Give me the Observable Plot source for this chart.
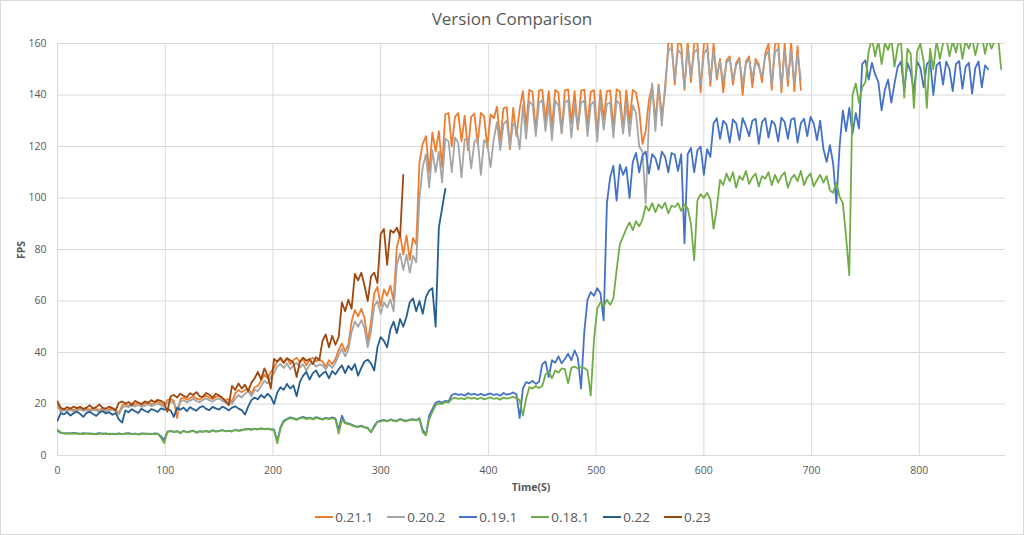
<!DOCTYPE html>
<html><head><meta charset="utf-8">
<script src="https://cdn.jsdelivr.net/npm/d3@7"></script>
<script src="https://cdn.jsdelivr.net/npm/@observablehq/plot@0.6"></script>
<style>
html,body{margin:0;padding:0;background:#fff;}
#wrap{position:relative;width:1024px;height:535px;font-family:"Open Sans",sans-serif;color:#595959;overflow:hidden;background:#fff;}
#frame{position:absolute;left:0;top:0;width:1024px;height:535px;box-sizing:border-box;border:1px solid #d9d9d9;pointer-events:none;}
#title{position:absolute;left:0;width:1024px;top:8px;line-height:22px;text-align:center;font-size:17px;}
#chart{position:absolute;left:0;top:0;}
#xlabel{position:absolute;left:481px;width:100px;top:479px;line-height:16px;text-align:center;font-size:10.5px;font-weight:bold;}
#ylabel{position:absolute;left:-29px;width:100px;top:242px;line-height:16px;text-align:center;font-size:10.5px;font-weight:bold;transform:rotate(-90deg);}
#legend{position:absolute;left:0;width:1026px;top:507px;height:20px;display:flex;justify-content:center;align-items:center;gap:14px;font-size:13.5px;}
.item{display:flex;align-items:center;}
.sw{width:18px;height:2px;margin-right:2px;}
</style>
</head><body>
<div id="wrap">
  <div id="chart"></div>
  <div id="title">Version Comparison</div>
  <div id="xlabel">Time(S)</div>
  <div id="ylabel">FPS</div>
  <div id="legend"></div>
  <div id="frame"></div>
</div>
<script>
// Sampling interval of every series (seconds between consecutive values)
const STEP = 3;
const seriesNames = ["0.21.1", "0.20.2", "0.19.1", "0.18.1", "0.22", "0.23"];
const seriesColors = ["#ED7D31", "#A5A5A5", "#4472C4", "#70AD47", "#255E91", "#9E480E"];
const xTicks = [0, 100, 200, 300, 400, 500, 600, 700, 800];
const yTicks = [0, 20, 40, 60, 80, 100, 120, 140, 160];

const v0211 = [
20, 17.5, 18, 17.8, 18.2, 17.6, 18, 18.4, 17.9, 18.1, 17.7, 18.3, 18, 17.6, 18.5, 17.2, 18, 18.4, 17.8, 16.5,
19.5, 20, 19.2, 20.3, 19.8, 20.5, 19.6, 20.1, 20.6, 19.9, 20.4, 21, 20.2, 19.5,
21.5, 22, 21.2, 14.5, 21.8, 22.5, 21.6, 22.3, 23, 22.1, 21.7, 22.6, 23.2, 22.4, 21.9, 22.8, 23.1, 22.2, 21.5, 22,
21, 24, 25.5, 24.5, 25.5, 26, 24, 26.5, 27, 29, 31.5, 30, 32.5,
34, 36.5, 37.5, 36, 37.8, 35.5, 37, 38, 36.2, 37.5, 35, 37.2, 38, 36.5, 37.3,
36.5, 34.5, 37, 35.5, 37.5, 41, 43.5, 40.5, 43,
52, 56.5, 54, 57, 53.5, 44, 52,
63, 65.5, 58, 64.5, 62, 66, 60,
81, 86, 78, 85.5, 76, 84.5, 82,
114, 121, 124, 110, 125.5, 118, 126, 112,
132.5, 133, 120, 131.5, 133, 122, 132, 118.5, 131.5, 132.8, 121, 133, 131.8, 119.5, 132.5, 131,
135.5, 122, 134.8, 135.3, 119, 135, 124, 134.5,
141.5, 128, 142, 141.2, 126, 141.8, 142, 130, 141.5, 127.5,
142, 141, 125.5, 141.8, 142.2, 129, 141.5, 126.5, 141.8, 142,
128, 141.2, 141.9, 125, 142, 130.5, 141.5, 141.8, 127, 142.2,
141.4, 126.5, 141.8, 129, 142, 141, 134,
121, 126, 138, 143.5, 130, 144, 132, 141,
160, 161, 144, 160.5, 159.5, 142, 161, 145, 160, 160.5, 141, 159.8, 161, 143.5, 160, 146,
154, 141, 153.5, 155, 144, 152.5, 154.5, 140, 153, 155, 143, 154, 152, 145, 156,
160, 142, 159.5, 161, 141, 160, 143.5, 160.5, 141.5, 159, 142
];

const v0202 = [
19, 17, 17.5, 17.2, 17.8, 17, 17.5, 17.9, 17.3, 17.6, 17.1, 17.7, 17.4, 17, 17.9, 16.8, 17.5, 17.8, 17.2, 16,
18.5, 19.2, 18.8, 19.5, 19, 19.7, 18.9, 19.4, 19.9, 19.2, 19.6, 20.2, 19.5, 18.8,
20.5, 21, 20.2, 18, 20.8, 21.5, 20.6, 21.3, 22, 21.1, 20.7, 21.6, 22.2, 21.4, 20.9, 21.8, 22.1, 21.2, 20.5, 21,
20, 22, 23.5, 22.5, 24, 25, 23, 25.5, 25, 27, 29, 28, 30.5,
32, 34.5, 35.5, 34, 35.8, 33.5, 35, 36, 34.2, 35.5, 33, 35.2, 36, 34.5, 35.3,
35, 33.5, 35.5, 34, 36, 39, 41.5, 38.5, 41,
48, 52, 50, 52.5, 49.5, 42, 48,
58, 60, 55, 59.5, 57.5, 60.5, 56,
74, 78.5, 72, 78, 71, 77.5, 75,
100, 112, 117, 104, 118.5, 110, 118, 106,
123, 122, 110, 123.5, 121.5, 108, 122.8, 123, 111.5, 121.8, 123.2, 109, 122.5, 121, 112, 123,
129.5, 118.5, 128.8, 130, 120, 129, 127.5, 119,
136, 123, 137.5, 136.2, 124, 137, 138, 126, 136.5, 122.5,
137.8, 136, 125, 137.2, 138, 123.5, 136.5, 127, 137, 137.8,
124, 136.2, 137.5, 122, 138, 126.5, 136.5, 137, 123.5, 137.8,
136.4, 125, 137, 124, 136, 133, 120,
118, 98, 130, 144.5, 126, 143, 128, 144,
157, 158.5, 146, 157.5, 156, 143, 158, 147, 156.5, 157.8, 144, 156, 158, 145.5, 157, 147.5,
153, 145, 152.5, 154, 146, 151.5, 153.5, 144, 152, 154, 146.5, 153, 151, 147, 155,
157, 144, 156.5, 158, 143, 157, 146, 157.5, 144.5, 156, 146
];

const v0191 = [
9.5, 8.8, 8.6, 8.7, 8.5, 8.8, 8.6, 8.4, 8.7, 8.5, 8.6, 8.3, 8.5, 8.7, 8.4, 8.6, 8.2, 8.5, 8.4, 8.6, 8.3, 8.5, 8.7, 8.4, 8.5, 8.2, 8.6, 8.4, 8.5, 8.3, 8.6, 8.5, 7.5,
6, 9.3, 9.6, 9.2, 9.5, 8.8, 9.6, 9.1, 9.4, 9.7, 8.9, 9.5, 9.3, 9.6, 9.2, 9.8, 9.4, 9.6, 9.9, 9.5, 9.7, 9.4, 10, 9.7, 9.9, 10.2,
10.3, 10.1, 10.4, 10.2, 10.5, 10.3, 10.4, 10.2, 10.1,
5.5, 11, 13.5, 14.2, 14.8, 14.5, 14, 14.6, 15, 14.4, 14.7, 14.2, 14.9, 14.5, 14.1, 14.6, 14.3, 14.8, 14.4,
10, 15.5, 12.8, 12.5, 12, 11.4, 11.2, 11.6, 11, 10.8, 9, 11.5, 13.2,
13.5, 13.8, 13.4, 14, 13.6, 13.5, 14.2, 13.7, 13.5, 13.9, 14.1, 13.8, 14.5,
10, 8, 15.5, 18, 20.5, 21, 20.5, 21.2, 21, 23.5,
24, 23.5, 23.8, 23.2, 24.2, 23.6, 23.9, 23.4, 24, 23.3, 23.7, 24.1, 23.5, 23.8, 23.2, 24.3, 23.6, 23.9, 24.5, 23.8,
14.5, 26, 28.5, 28, 29, 27.8, 28.6,
35.5, 36.5, 30.5, 37, 36, 38.5, 35.8, 37.5, 39.5, 37, 40.8, 38,
26, 48,
60.5, 63.5, 62, 65, 63,
52.5,
98, 108, 112.5, 99, 113, 109, 112, 100,
114, 117.5, 110, 116.5, 118, 109.5, 117, 115.5, 111, 118, 116, 110, 117.5, 116.8, 110.5, 117,
82.4,
117, 119.5, 110, 118.5, 120, 109, 119, 116,
129, 131, 123, 130, 128.5, 121.5, 130.5, 129, 122.5, 131, 128, 124, 130, 130.8, 121, 129.5, 131,
123.5, 130, 128.5, 122, 131.2, 129.5, 123, 130.5, 131, 121.5, 129, 130.8, 124, 131.5, 129, 122.5, 130,
119, 114, 120.5, 113.5,
98,
120, 134, 126, 135, 125, 133, 127,
152, 153.5, 146, 152.5, 148,
145, 134, 142, 146, 137, 144.5,
151, 153, 142, 152.5, 149, 141, 153, 150.5, 143, 152, 153.5, 140, 151.5, 152.8, 144,
153, 150, 141.5, 152, 153.2, 142.5, 151, 152.5, 140.5, 150.5, 153, 143, 151.5, 150
];

const v0181 = [
10, 9, 8.6, 8.5, 8.7, 8.4, 8.6, 8.5, 8.3, 8.6, 8.4, 8.5, 8.2, 8.4, 8.6, 8.3, 8.5, 8.4, 8.2, 8.5, 8.3, 8.6, 8.4, 8.3, 8.5, 8.1, 8.4, 8.6, 8.3, 8.5, 8.2, 8.4, 7,
4.8, 9, 9.5, 9.1, 9.4, 8.6, 9.5, 9, 9.3, 9.6, 8.8, 9.4, 9.2, 9.5, 9.1, 9.7, 9.3, 9.5, 9.8, 9.4, 9.6, 9.3, 9.9, 9.6, 9.8, 10.1,
10.2, 10, 10.3, 10.1, 10.4, 10.2, 10.3, 10.1, 9.8,
4.7, 10.5, 13, 14, 14.5, 14.2, 13.8, 14.4, 14.7, 14.1, 14.5, 14, 14.6, 14.3, 13.9, 14.4, 14.1, 14.5, 14,
8.5, 14, 12.5, 12.2, 11.8, 11.2, 11, 11.4, 10.8, 10.5, 9.2, 11, 13,
13.3, 13.6, 13.2, 13.8, 13.4, 13.3, 14, 13.5, 13.3, 13.7, 13.9, 13.6, 14,
9, 7.8, 14, 17, 19.5, 20.2, 20, 20.8, 20.5, 22,
22.5, 22, 22.3, 21.8, 22.6, 22.1, 22.4, 21.9, 22.5, 21.8, 22.2, 22.6, 22, 22.3, 21.7, 22.5, 22.1, 22.4, 22.8, 22.2,
21.5, 15.5, 22, 26.5, 26, 27, 26.2,
27, 31.5, 32.5, 30, 33, 32.2, 33.8, 33.5, 28, 34, 34.5, 33.8, 34.3, 34,
33, 23.3,
45, 57, 59.5, 58, 60.5, 58.5, 61,
72, 82, 85,
88, 90.5, 87.5, 91, 89, 91.5,
97, 95, 98, 94.5, 97.5, 96, 98.2, 94, 97, 96.5, 98, 95, 97.5,
96, 90,
75.8,
99, 101.5, 100, 102, 99.5,
88, 96,
107, 105, 109.5, 106.5, 110, 104, 108.5, 107, 110.5, 105.5, 108, 109.5, 104.5, 108.5, 107.5, 110, 105, 109,
106, 108.5, 110, 104, 107.5, 109, 106.5, 110.5, 105, 108, 109.5, 104.5, 107, 109, 106, 108.5, 103,
102, 106, 100.5, 98, 85,
70,
140, 144.5, 137, 143, 145,
157, 162, 155, 161, 152, 160, 157.5, 162, 151, 159, 161, 139, 158, 156, 135, 157, 160, 153, 135, 158, 150,
161, 154, 160, 162, 155, 161, 156.5, 163, 154, 161, 158, 162, 155.5, 161, 163, 156, 162, 158, 161, 163, 150
];

const v022 = [
13.5, 16.5, 16, 16.8, 15.5, 16.4, 17, 16.2, 15, 16.6, 16.9, 16.1, 15.4, 16.7, 17.2, 16.3, 16.8, 15.8, 16.5,
14, 12.8, 17.5, 16.8, 18, 17.2, 16.5, 18.2, 17.4, 16.8, 18, 17.6, 16.9, 18.3, 17.8,
18.2, 17.5, 15, 18.5, 17.8, 18.6, 17.2, 18.8, 18, 17.4, 18.7, 19.2, 18.1, 17.6, 18.9, 18.3, 17.8, 19, 18.4, 17.5, 18.6, 19.1, 18.2, 17.6, 15.9,
19, 21.5, 22.5, 21.8, 23.5, 22.4, 24, 22.8,
20, 24.5, 26.5, 25.5, 27.8, 26, 27.2, 23,
28.5, 31, 32.5, 29.5, 32, 33, 30.5, 31.8, 32.6, 30, 32.8,
31.5, 33.5, 35, 32, 34.8, 33.2, 35.5, 31, 34,
36.5, 37.2, 35.8, 33, 42,
46, 44.5, 42, 49, 52, 47.5, 53, 50,
54, 59.5, 61, 56, 60, 55, 61.5,
64, 65,
50,
88.5, 96, 103.5
];

const v023 = [
21, 18.5, 18, 18.8, 18.2, 19, 18.4, 18.9, 18.1, 18.6, 19.5, 18.3, 18.8, 19.8, 18.5, 18.2, 19, 18.4, 17.5,
20.5, 21, 20.2, 20.8, 19.5, 21.2, 20.6, 20, 21, 20.4, 21.5, 20.8, 21.6, 21.2, 20.5, 17,
23, 23.5, 22.5, 24, 23.2, 22.6, 24.2, 23.5, 24.6, 23, 22.8, 24.3, 23.6, 22.5, 24, 23.3, 22.4, 21,
19.5, 27, 25.5, 28, 26, 27.5, 25, 28.2, 30, 32.5, 29.5, 33.8, 31, 26,
37.5, 36.5, 38, 36, 37.8, 37, 36, 30.5, 36.5, 38, 36.8, 37.5, 35.5, 38.2, 37,
44.5, 47, 42, 46.5, 43, 46,
59.5, 56, 60.5, 57,
70.5, 68, 71, 66, 60, 69.5, 71, 67,
86, 88, 74, 87.5, 86.5, 88.5, 85,
109
];

const seriesValues = [v0211, v0202, v0191, v0181, v022, v023];

const rows = [];
seriesNames.forEach((name, k) => {
  seriesValues[k].forEach((v, i) => rows.push({series: name, t: i * STEP, fps: v}));
});

const chart = Plot.plot({
  width: 1024,
  height: 500,
  marginLeft: 57,
  marginRight: 19,
  marginTop: 43,
  marginBottom: 45,
  style: {fontFamily: "'Open Sans', sans-serif", fontSize: "10.5px", color: "#595959", background: "transparent"},
  x: {domain: [0, 880], label: null},
  y: {domain: [0, 160], label: null},
  color: {domain: seriesNames, range: seriesColors},
  marks: [
    Plot.gridY(yTicks, {stroke: "#d9d9d9", strokeOpacity: 1, strokeWidth: 1}),
    Plot.gridX(xTicks, {stroke: "#d9d9d9", strokeOpacity: 1, strokeWidth: 1}),
    Plot.axisX(xTicks, {tickSize: 0, tickPadding: 11, fill: "#595959", label: null}),
    Plot.axisY(yTicks, {tickSize: 0, tickPadding: 11, fill: "#595959", label: null}),
    Plot.line(rows, {x: "t", y: "fps", z: "series", stroke: "series", strokeWidth: 1.8, clip: true, strokeLinejoin: "round"})
  ]
});
document.getElementById("chart").appendChild(chart);

const legend = document.getElementById("legend");
seriesNames.forEach((name, k) => {
  const it = document.createElement("div");
  it.className = "item";
  const sw = document.createElement("span");
  sw.className = "sw";
  sw.style.background = seriesColors[k];
  const tx = document.createElement("span");
  tx.textContent = name;
  it.appendChild(sw); it.appendChild(tx);
  legend.appendChild(it);
});
</script>
</body></html>
